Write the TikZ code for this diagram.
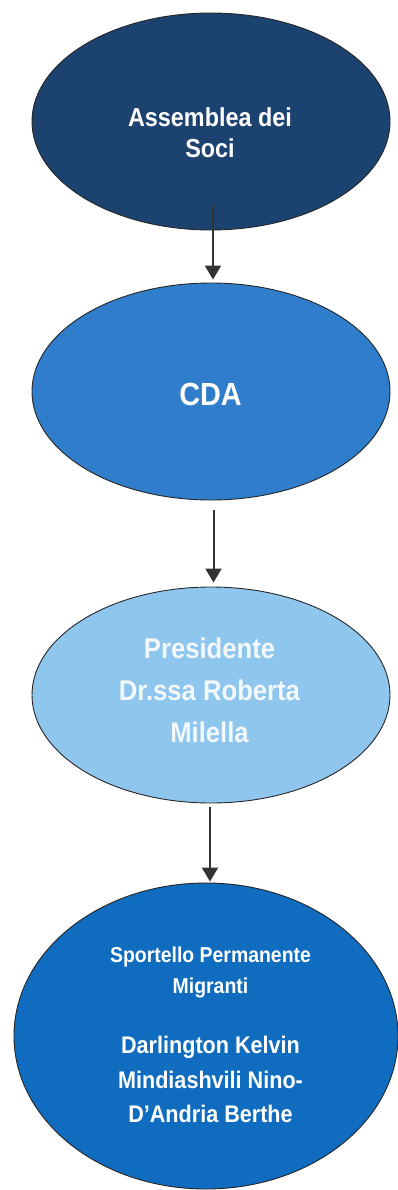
\documentclass[tikz,border=0pt]{standalone}
\usepackage{fontspec}
\newfontfamily\nar[FakeStretch=0.9]{Liberation Sans}
\usetikzlibrary{shapes.geometric,arrows.meta}
\definecolor{navy}{HTML}{1C4370}
\definecolor{midblue}{HTML}{2F7DCB}
\definecolor{lightblue}{HTML}{8FC6EE}
\definecolor{deepblue}{HTML}{0F6CBE}
\definecolor{arrgray}{HTML}{333333}
\definecolor{offwhite}{HTML}{F2F8FC}
\tikzset{
  oval/.style={ellipse, draw=black!85, line width=0.9pt, inner sep=0pt},
  lbl/.style={anchor=base, inner sep=0pt, text=white, font=\nar\bfseries},
  arr/.style={draw=arrgray, line width=2pt, -{Triangle[width=16pt,length=14pt]}}
}
\begin{document}
\begin{tikzpicture}[x=1pt,y=-1pt]
\useasboundingbox (0,0) rectangle (397,1190);
% ellipses
\node[oval, fill=navy, minimum width=358pt, minimum height=217pt] (e1) at (211,121.5) {};
\node[oval, fill=midblue, minimum width=358pt, minimum height=217pt] (e2) at (211,391.5) {};
\node[oval, fill=lightblue, minimum width=358pt, minimum height=216pt] (e3) at (211,695) {};
\node[oval, fill=deepblue, minimum width=384pt, minimum height=306pt] (e4) at (206,1036) {};
% texts
\node[lbl, font=\nar\bfseries\fontsize{26}{31}\selectfont] (t1a) at (210,127) {Assemblea dei};
\node[lbl, font=\nar\bfseries\fontsize{26}{31}\selectfont] (t1b) at (210,158) {Soci};
\node[lbl, font=\nar\bfseries\fontsize{32}{38}\selectfont] (t2) at (210.5,405) {CDA};
\node[lbl, text=offwhite, font=\nar\bfseries\fontsize{28.5}{42}\selectfont] (t3a) at (209.5,658) {Presidente};
\node[lbl, text=offwhite, font=\nar\bfseries\fontsize{28.5}{42}\selectfont] (t3b) at (209.5,700) {Dr.ssa Roberta};
\node[lbl, text=offwhite, font=\nar\bfseries\fontsize{28.5}{42}\selectfont] (t3c) at (209.5,742) {Milella};
\node[lbl, font=\nar\bfseries\fontsize{21.6}{31}\selectfont] (t4a) at (210.5,962) {Sportello Permanente};
\node[lbl, font=\nar\bfseries\fontsize{21.6}{31}\selectfont] (t4b) at (210.5,993) {Migranti};
\node[lbl, font=\nar\bfseries\fontsize{24}{34}\selectfont] (t4c) at (210.5,1053) {Darlington Kelvin};
\node[lbl, font=\nar\bfseries\fontsize{24}{34}\selectfont] (t4d) at (210.5,1088) {Mindiashvili Nino-};
\node[lbl, font=\nar\bfseries\fontsize{24}{34}\selectfont] (t4e) at (210.5,1122) {D’Andria Berthe};
% arrows
\draw[arr] ([xshift=2pt,yshift=25pt]e1.south) -- ([xshift=2pt,yshift=3pt]e2.north);
\draw[arr] ([xshift=2.5pt,yshift=-10pt]e2.south) -- ([xshift=2.5pt,yshift=4pt]e3.north);
\draw[arr] ([xshift=-1pt,yshift=-4pt]e3.south) -- ([xshift=4pt,yshift=1pt]e4.north);
\end{tikzpicture}
\end{document}
